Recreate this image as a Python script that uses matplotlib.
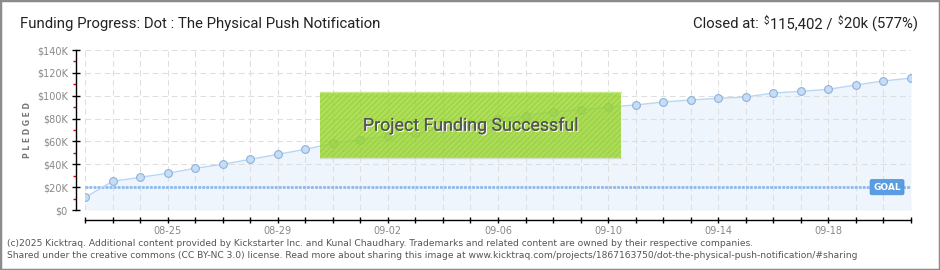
import matplotlib
matplotlib.use('Agg')
import matplotlib.pyplot as plt
import matplotlib.patheffects as pe
import matplotlib.transforms as mtransforms
from matplotlib.patches import Rectangle
from matplotlib.ticker import FixedLocator, MultipleLocator, FuncFormatter
import numpy as np
import pandas as pd

# ---------------- data ----------------
dates = pd.date_range('2013-08-22', periods=31).strftime('%m-%d').tolist()
pledged = [11000, 25100, 28600, 32100, 36500, 40000, 44300, 48700, 53100, 58300,
           61500, 64500, 67400, 71500, 75500, 79300, 82600, 86000, 87500, 90100,
           91900, 94500, 96300, 97700, 98900, 102400, 103800, 105600, 109400, 112900,
           115402]
goal = 20000
label_dates = ['08-25', '08-29', '09-02', '09-06', '09-10', '09-14', '09-18']
y_ticks = [0, 20000, 40000, 60000, 80000, 100000, 120000, 140000]
title = 'Funding Progress: Dot : The Physical Push Notification'
closed_pieces = ['Closed at:', r'\$', '115,402 /', r'\$', '20k (577%)']
footer1 = ('(c)2025 Kicktraq. Additional content provided by Kickstarter Inc. and Kunal Chaudhary. '
           'Trademarks and related content are owned by their respective companies.')
footer2 = ('Shared under the creative commons (CC BY-NC 3.0) license. Read more about sharing this image at '
           'www.kicktraq.com/projects/1867163750/dot-the-physical-push-notification/#sharing')

TF = ['Roboto', 'DejaVu Sans']
W, H = 940, 270
plt.rcParams['hatch.linewidth'] = 0.6

fig = plt.figure(figsize=(W / 100, H / 100), dpi=100)
fig.patch.set_facecolor('white')
ax = fig.add_axes([85 / W, 60 / H, 826 / W, 160 / H])

x = np.arange(len(dates))
ax.set_xlim(0, len(dates) - 1)
ax.set_ylim(0, 140000)

ax.fill_between(x, pledged, color='#eef5fd', lw=0, zorder=1)
ax.plot(x, pledged, color='#b9d6f4', lw=1, marker='o', ms=5.6,
        mfc='#c6ddf6', mec='#8fb1da', mew=0.8, zorder=4)
ax.axhline(goal, color='#8fbae9', lw=2, ls=(0, (1, 0.45)), zorder=3)

# grid
ax.set_axisbelow('line')
ax.grid(True, which='major', color='#dedede', lw=0.75, ls=(0, (5.5, 3.7)))

# spines
for s in ['top', 'right']:
    ax.spines[s].set_visible(False)
ax.spines['left'].set_position(('outward', 6.5))
ax.spines['bottom'].set_position(('outward', 7.2))
ax.spines['left'].set_linewidth(1)
ax.spines['bottom'].set_linewidth(1)

# ticks
ax.xaxis.set_major_locator(FixedLocator(x))
ax.set_xticklabels([d if d in label_dates else '' for d in dates])
ax.tick_params(axis='x', which='major', direction='inout', length=5, width=1,
               colors='black', labelcolor='#888888', labelsize=7, pad=1.5)
ax.yaxis.set_major_locator(FixedLocator(y_ticks))
ax.yaxis.set_minor_locator(MultipleLocator(10000))
ax.yaxis.set_major_formatter(FuncFormatter(lambda v, p: r'\$0' if v == 0 else r'\$%dK' % (v / 1000)))
ax.tick_params(axis='y', which='major', direction='inout', length=5.5, width=1,
               colors='black', labelcolor='#888888', labelsize=7, pad=3)
ax.tick_params(axis='y', which='minor', direction='out', length=2.5, width=1, colors='#e00000')

fig.text(27 / W, 1 - 130 / H, 'P L E D G E D', rotation=90, ha='center', va='center',
         fontsize=5.5, color='#777777', fontweight='bold')

# success box
bx, by, bw, bh = 0.2845, 0.325, 0.3645, 0.4125
ax.add_patch(Rectangle((bx, by), bw, bh, transform=ax.transAxes,
                       facecolor='#97d62a', alpha=0.78, lw=0, zorder=6))
ax.add_patch(Rectangle((bx, by), bw, bh, transform=ax.transAxes,
                       facecolor='none', edgecolor='#98cc3c', hatch='//////', lw=0, zorder=6.1))
ax.plot([bx, bx + bw], [by + bh, by + bh], transform=ax.transAxes, color='#c4ea86', lw=1, zorder=6.2)
ax.plot([bx, bx + bw], [by, by], transform=ax.transAxes, color='#d4dccb', lw=1, zorder=6.2)
ax.text(bx + bw / 2, by + bh * 0.49, 'Project Funding Successful', transform=ax.transAxes,
        ha='center', va='center', fontsize=12.8, color='#555555', family=TF, zorder=7,
        path_effects=[pe.withSimplePatchShadow(offset=(0.8, -0.8), shadow_rgbFace='white', alpha=0.9),
                      pe.Normal()])

# goal label
trans = mtransforms.blended_transform_factory(ax.transAxes, ax.transData)
ax.text(0.971, goal, 'GOAL', transform=trans, ha='center', va='center', fontsize=6.5,
        color='white', fontweight='bold', zorder=8,
        bbox=dict(boxstyle='round,pad=0.35,rounding_size=0.2', fc='#5b9de2', ec='#4b8fd8', lw=0.5))

# titles
fig.text(20 / W, 1 - 24 / H, title, fontsize=10.7, va='center', ha='left', family=TF, color='#222222')

yt = 1 - 24 / H
renderer = fig.canvas.get_renderer()
objs = []
for i, txt in enumerate(closed_pieces):
    small = txt == r'\$'
    t = fig.text(0, yt + (0.012 if small else 0), txt, fontsize=7 if small else 10.7,
                 va='center', ha='left', family=TF, color='#222222')
    objs.append((t, small))
gaps_px = [0, 5, 1, 5, 1]
widths = [t.get_window_extent(renderer).width for t, _ in objs]
total = sum(widths) + sum(gaps_px)
xpos = 918 - total
for (t, _), w, g in zip(objs, widths, gaps_px):
    xpos += g
    t.set_x(xpos / W)
    xpos += w

# footer
fig.text(7 / W, 1 - 243 / H, footer1, fontsize=6.55, va='center', ha='left', color='#555555')
fig.text(7 / W, 1 - 256 / H, footer2, fontsize=6.55, va='center', ha='left', color='#555555')

# frame
fig.patches.append(Rectangle((0, 0), 1, 1, transform=fig.transFigure, fill=False,
                             ec='#8c8c8c', lw=2.5, zorder=10))

fig.savefig('out.png', dpi=100)
